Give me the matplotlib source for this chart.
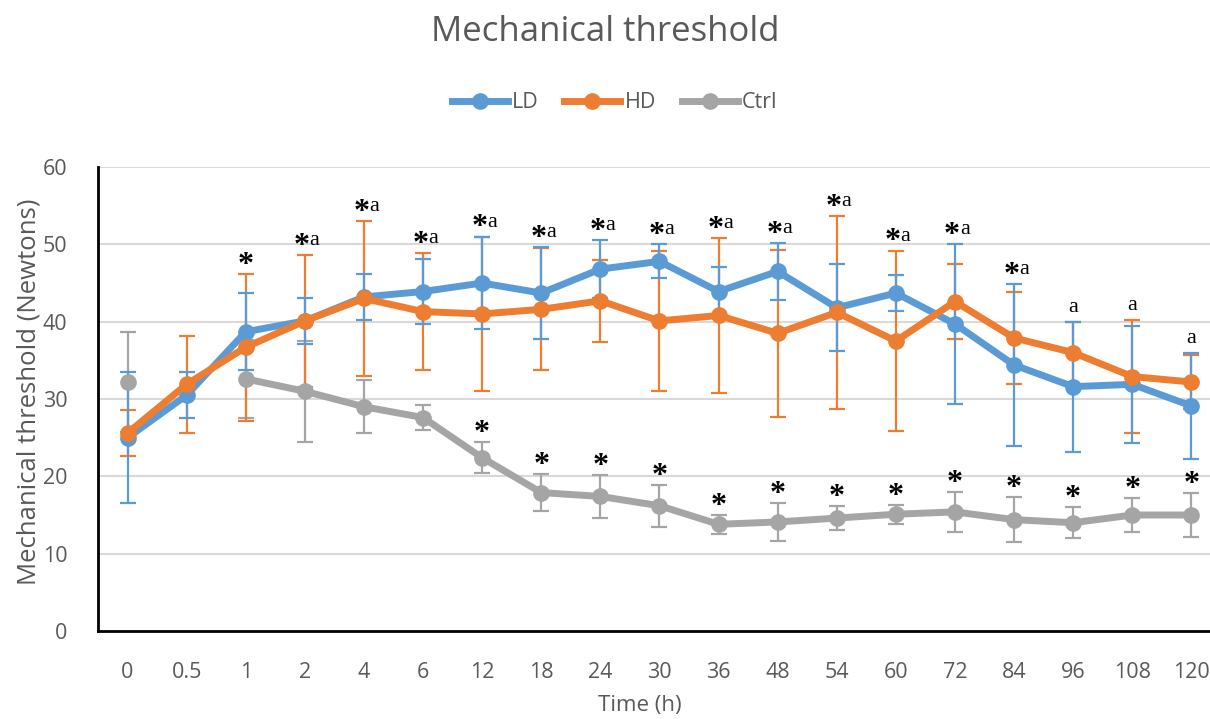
import numpy as np
import matplotlib.pyplot as plt

# cores do excel
COR_LD = "#5B9BD5"
COR_HD = "#ED7D31"
COR_CTRL = "#A5A5A5"
COR_TEXTO = "#595959"
COR_GRADE = "#D9D9D9"

plt.rcParams["font.family"] = ["Open Sans", "DejaVu Sans"]

# dados
tempos = ["0", "0.5", "1", "2", "4", "6", "12", "18", "24", "30",
          "36", "48", "54", "60", "72", "84", "96", "108", "120"]

ld = [25.0, 30.5, 38.7, 40.1, 43.2, 43.9, 45.0, 43.7, 46.8, 47.8,
      43.9, 46.5, 41.8, 43.7, 39.7, 34.4, 31.6, 31.9, 29.1]
ld_err = [8.5, 3.0, 5.0, 3.0, 3.0, 4.2, 6.0, 6.0, 3.7, 2.2,
          3.2, 3.7, 5.6, 2.3, 10.3, 10.5, 8.4, 7.6, 6.9]

hd = [25.6, 31.9, 36.7, 40.1, 43.0, 41.3, 41.0, 41.6, 42.7, 40.1,
      40.8, 38.5, 41.2, 37.5, 42.6, 37.9, 36.0, 32.9, 32.2]
hd_err = [3.0, 6.3, 9.5, 8.5, 10.0, 7.6, 10.0, 7.9, 5.3, 9.1,
          10.0, 10.8, 12.5, 11.7, 4.9, 5.9, 4.0, 7.3, 3.5]

# ctrl sem valor em 0.5 h (linha interrompida)
ctrl = [32.2, np.nan, 32.6, 31.0, 29.0, 27.6, 22.4, 17.9, 17.4, 16.2,
        13.8, 14.1, 14.6, 15.1, 15.4, 14.4, 14.0, 15.0, 15.0]
ctrl_err = [6.5, np.nan, 5.0, 6.5, 3.4, 1.6, 2.0, 2.4, 2.8, 2.7,
            1.2, 2.4, 1.6, 1.2, 2.6, 2.9, 2.0, 2.2, 2.8]

# marcas de significancia
marcas_topo = ["", "", "*", "*a", "*a", "*a", "*a", "*a", "*a", "*a",
               "*a", "*a", "*a", "*a", "*a", "*a", "a", "a", "a"]
marcas_ctrl = ["", "", "", "", "", "", "*", "*", "*", "*",
               "*", "*", "*", "*", "*", "*", "*", "*", "*"]

x = np.arange(len(tempos))

fig = plt.figure(figsize=(12.1, 7.19), dpi=100)
ax = fig.add_axes([0.081, 0.1224, 0.928, 0.6453])

for y in range(10, 61, 10):
    ax.axhline(y, color=COR_GRADE, lw=1.5, zorder=0)

series = [
    (hd, hd_err, COR_HD, 2),
    (ld, ld_err, COR_LD, 3),
    (ctrl, ctrl_err, COR_CTRL, 1),
]
for ys, es, cor, z in series:
    ax.errorbar(x, ys, yerr=es, fmt="none", ecolor=cor,
                elinewidth=1.6, capsize=6, capthick=1.6, zorder=z)

ax.plot(x, ctrl, "-o", color=COR_CTRL, lw=5, ms=11, zorder=4, label="Ctrl")
ax.plot(x, ld, "-o", color=COR_LD, lw=5, ms=11, zorder=5, label="LD")
ax.plot(x, hd, "-o", color=COR_HD, lw=5, ms=11, zorder=6, label="HD")


def marca(i, topo, m):
    # asterisco em negrito, letra normal
    if "*" in m:
        ax.annotate("*", (i, topo), xytext=(-2 if "a" in m else 0, -4.2),
                    textcoords="offset points", ha="center", va="bottom",
                    fontsize=23, fontweight="bold",
                    family="Liberation Serif", color="black")
    if "a" in m:
        ax.annotate("a", (i, topo), xytext=(3.5 if "*" in m else 0, 3.6),
                    textcoords="offset points",
                    ha="left" if "*" in m else "center", va="bottom",
                    fontsize=16, family="Liberation Serif", color="black")


for i, m in enumerate(marcas_topo):
    if m:
        marca(i, max(ld[i] + ld_err[i], hd[i] + hd_err[i]), m)
for i, m in enumerate(marcas_ctrl):
    if m:
        marca(i, ctrl[i] + ctrl_err[i], m)

ax.set_xlim(-0.5, len(tempos) - 0.5)
ax.set_ylim(0, 60)
ax.set_xticks(x)
ax.set_xticklabels(tempos)
ax.set_yticks(range(0, 61, 10))
ax.tick_params(length=0, labelsize=15.5, colors=COR_TEXTO)
ax.tick_params(axis="x", pad=22)
ax.tick_params(axis="y", pad=22)

for lado in ["top", "right"]:
    ax.spines[lado].set_visible(False)
for lado in ["left", "bottom"]:
    ax.spines[lado].set_color("black")
    ax.spines[lado].set_linewidth(2)

ax.set_xlabel("Time (h)", fontsize=16, color=COR_TEXTO)
ax.xaxis.set_label_coords((640 - 98) / 1123, -0.137)
ax.set_ylabel("Mechanical threshold (Newtons)", fontsize=18.5, color=COR_TEXTO)
ax.yaxis.set_label_coords(-0.050, 0.515)

fig.text(0.5, 0.955, "Mechanical threshold", ha="center", va="center",
         fontsize=25, color=COR_TEXTO)

handles, labels = ax.get_legend_handles_labels()
ordem = [1, 2, 0]
fig.legend([handles[k] for k in ordem], [labels[k] for k in ordem],
           loc="center", bbox_to_anchor=(0.508, 0.857), ncol=3, frameon=False,
           fontsize=15.5, labelcolor=COR_TEXTO, handlelength=2.6,
           columnspacing=1.2, handletextpad=0.2)

plt.savefig("out.png", dpi=100)
